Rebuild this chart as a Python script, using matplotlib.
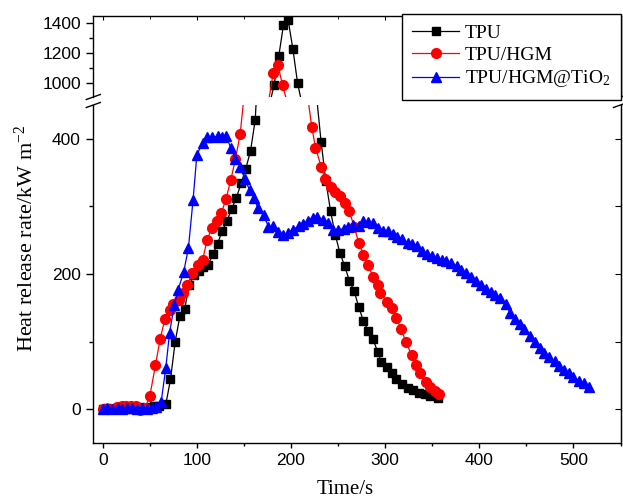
import matplotlib
matplotlib.use('Agg')
import matplotlib.pyplot as plt
from matplotlib.ticker import MultipleLocator
from matplotlib.lines import Line2D

plt.rcParams['font.family'] = 'Liberation Sans'
plt.rcParams['mathtext.fontset'] = 'custom'
plt.rcParams['mathtext.rm'] = 'Liberation Serif'
plt.rcParams['mathtext.it'] = 'Liberation Serif:italic'

# TPU
tpu_t = [0, 5, 10, 15, 20, 25, 30, 35, 40, 45, 50, 55, 60, 67, 72, 77, 82, 87, 92, 97,
         102, 107, 112, 117, 122, 127, 132, 137, 142, 147, 152, 157, 162, 167, 172, 177,
         182, 187, 192, 197, 202, 207, 212, 217, 222, 227, 232, 237, 242, 247, 252, 257,
         262, 267, 272, 277, 282, 287, 292, 296, 302, 307, 312, 318, 324, 330, 336, 342,
         348, 356]
tpu_y = [1, 2, 1, 2, 0, 2, 3, 2, 3, 2, 3, 4, 5, 7, 44, 100, 138, 148, 184, 198,
         205, 210, 214, 229, 245, 264, 279, 296, 313, 334, 356, 382, 428, 560, 700, 850,
         987, 1180, 1387, 1420, 1227, 1000, 850, 700, 560, 465, 395, 338, 293, 258, 231, 212,
         190, 175, 151, 130, 116, 104, 85, 70, 63, 54, 44, 37, 32, 28, 24, 22,
         20, 17]

# TPU/HGM
hgm_t = [0, 5, 10, 15, 20, 25, 30, 35, 40, 45, 50, 56, 61, 66, 71, 75, 81, 85, 90, 95,
         101, 106, 111, 116, 121, 126, 131, 136, 141, 146, 151, 156, 161, 166, 171, 176,
         181, 186, 191, 196, 201, 206, 211, 216, 222, 226, 232, 236, 242, 247, 252, 257,
         262, 267, 272, 277, 282, 287, 292, 295, 302, 307, 312, 317, 322, 328, 333, 337,
         343, 348, 353, 357]
hgm_y = [0, 0, 1, 3, 5, 4, 5, 4, -1, 2, 19, 65, 104, 133, 147, 156, 162, 172, 184, 201,
         213, 220, 251, 268, 279, 290, 311, 339, 370, 407, 475, 540, 620, 710, 790, 870,
         1064, 1120, 987, 870, 750, 640, 560, 480, 418, 387, 359, 341, 329, 321, 316, 305,
         293, 270, 246, 228, 213, 196, 184, 172, 159, 150, 135, 118, 100, 80, 66, 53,
         40, 33, 27, 22]

# TPU/HGM@TiO2
tio_t = [0, 5, 10, 16, 21, 26, 31, 36, 42, 47, 52, 57, 62, 67, 71, 76, 80, 86, 91, 96,
         100, 106, 111, 116, 122, 127, 131, 136, 141, 146, 151, 156, 161, 165, 171, 176,
         181, 186, 192, 197, 202, 208, 213, 218, 223, 228, 234, 239, 245, 250, 256, 261,
         266, 272, 277, 282, 287, 292, 298, 303, 308, 313, 318, 324, 329, 334, 339, 344,
         350, 355, 360, 365, 370, 376, 381, 386, 391, 396, 402, 407, 412, 417, 422, 428,
         433, 438, 443, 448, 454, 459, 464, 469, 474, 480, 485, 490, 495, 500, 506, 511, 517]
tio_y = [1, 2, 1, 2, 1, 2, 2, 1, 2, 1, 2, 3, 10, 61, 113, 154, 176, 203, 238, 310,
         376, 394, 403, 402, 404, 403, 404, 387, 370, 358, 341, 324, 312, 297, 287, 270,
         271, 262, 257, 261, 265, 271, 274, 279, 283, 285, 280, 275, 265, 265, 267, 270,
         272, 271, 278, 277, 275, 268, 264, 264, 259, 255, 252, 246, 244, 242, 234, 230,
         226, 223, 221, 219, 216, 212, 206, 201, 196, 189, 183, 178, 174, 169, 164, 155,
         142, 133, 126, 119, 109, 99, 90, 83, 77, 71, 64, 58, 53, 48, 42, 39, 33]

series = [
    (tpu_t, tpu_y, 'black', 's', 5.8, 'TPU'),
    (hgm_t, hgm_y, 'red', 'o', 7, 'TPU/HGM'),
    (tio_t, tio_y, 'blue', '^', 7.2, 'TPU/HGM@TiO$_2$'),
]

fig = plt.figure(figsize=(6.23, 4.99), dpi=100)
L, W = 93.3 / 623, (620.5 - 93.3) / 623
ax_top = fig.add_axes([L, 1 - 97 / 499, W, (97 - 15.7) / 499])
ax_bot = fig.add_axes([L, 1 - 443 / 499, W, (443 - 105) / 499])

for ax in (ax_top, ax_bot):
    for t, y, c, m, ms, lab in series:
        ax.plot(t, y, color=c, marker=m, markersize=ms, lw=0.9, label=lab,
                markeredgecolor=c)
    ax.set_xlim(-10, 550)
    ax.xaxis.set_major_locator(MultipleLocator(100))
    ax.xaxis.set_minor_locator(MultipleLocator(50))
    for s in ax.spines.values():
        s.set_linewidth(1.0)
    ax.tick_params(axis='y', which='major', direction='out', length=5, width=1,
                   labelsize=12.5, pad=4)
    ax.tick_params(axis='y', which='minor', direction='out', length=3, width=1)
    sec = ax.secondary_yaxis('right')
    sec.tick_params(which='major', direction='in', length=4, labelright=False)
    sec.tick_params(which='minor', direction='in', length=2.5)

ax_top.set_ylim(907, 1450)
ax_top.set_yticks([1000, 1200, 1400])
ax_top.yaxis.set_minor_locator(MultipleLocator(100))
ax_top.spines['bottom'].set_visible(False)
ax_top.xaxis.set_ticks_position('top')
ax_top.tick_params(axis='x', which='both', direction='in', length=3, labeltop=False)
ax_top.tick_params(axis='x', which='minor', length=2)

ax_bot.set_ylim(-50, 450)
ax_bot.set_yticks([0, 200, 400])
ax_bot.yaxis.set_minor_locator(MultipleLocator(100))
ax_bot.spines['top'].set_visible(False)
ax_bot.xaxis.set_ticks_position('bottom')
ax_bot.tick_params(axis='x', which='major', direction='out', length=3.5, width=1,
                   labelsize=12.5, pad=4)
ax_bot.tick_params(axis='x', which='minor', direction='out', length=2.5, width=1)

# break marks on both side spines
for yc in (1 - 97 / 499, 1 - 105 / 499):
    for xc in (L, L + W):
        fig.add_artist(Line2D([xc - 7 / 623, xc + 7 / 623], [yc - 2.5 / 499, yc + 2.5 / 499],
                              color='black', lw=1.0, transform=fig.transFigure))

fig.text(26 / 623, 1 - 238 / 499, 'Heat release rate/kW m$^{-2}$', rotation=90,
         ha='center', va='center', fontsize=16, family='Liberation Serif')
fig.text(345 / 623, 1 - 490 / 499, 'Time/s', ha='center', va='center',
         fontsize=15, family='Liberation Serif')

handles, labels = ax_bot.get_legend_handles_labels()
leg = fig.legend(handles, labels, loc='upper right',
                 bbox_to_anchor=(621 / 623, 1 - 14 / 499), borderaxespad=0,
                 prop={'family': 'Liberation Serif', 'size': 14}, fancybox=False,
                 edgecolor='black', framealpha=1, handlelength=2.4, handletextpad=0.3,
                 labelspacing=0.22, borderpad=0.55)
leg.get_frame().set_linewidth(1.0)

fig.savefig('out.png', dpi=100)
